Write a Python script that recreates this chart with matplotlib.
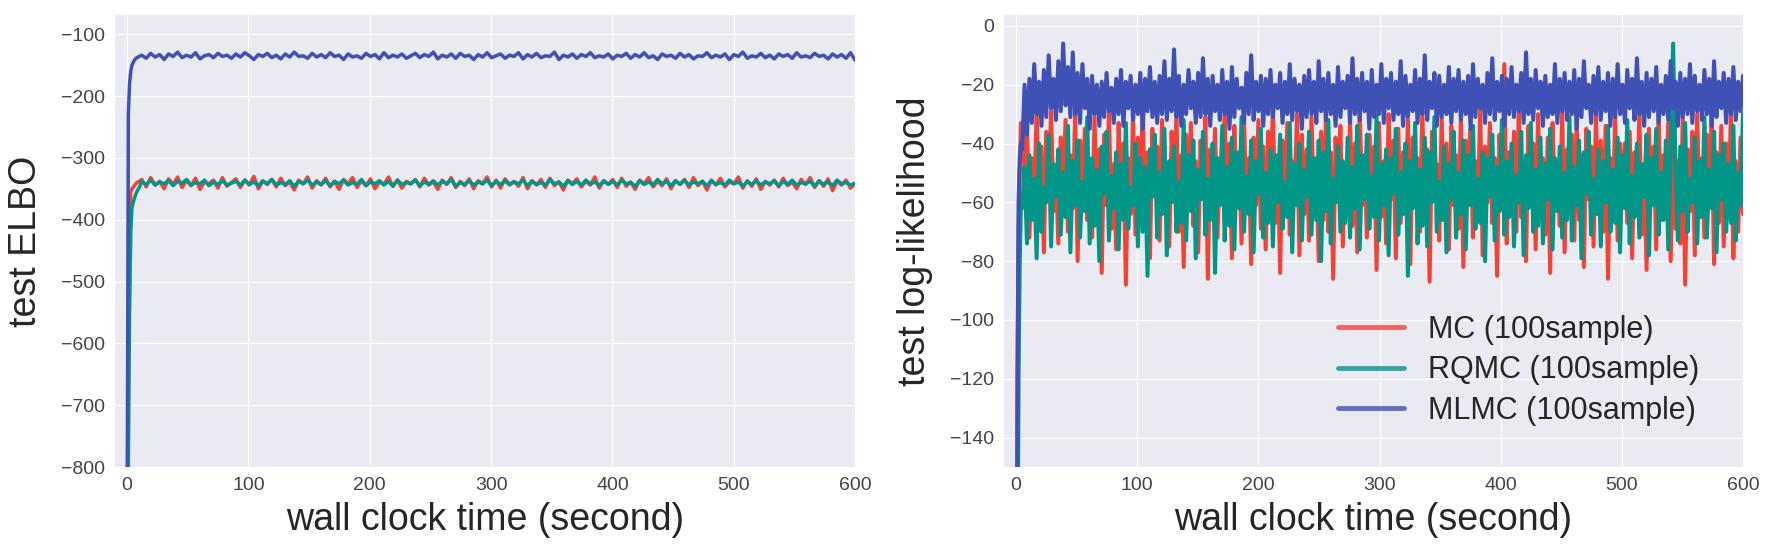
import numpy as np
import matplotlib.pyplot as plt

plt.style.use('seaborn-v0_8-darkgrid')
plt.rcParams['font.family'] = ['Liberation Sans', 'DejaVu Sans']

# ---- left panel: test ELBO ----
elbo_warm_t = [0, 1, 2, 3, 4, 6, 8, 10]
elbo_mlmc_warm = [-900, -230, -180, -160, -150, -142, -138, -136]
elbo_mc_warm = [-900, -600, -400, -355, -350, -345, -340, -338]
elbo_rqmc_warm = [-900, -800, -550, -420, -380, -365, -355, -348]

elbo_mlmc = [
    -134, -139, -131, -137, -133, -141, -132, -136, -129, -138, -134, -137, -130, -140, -135, -133, -138, -131, -136, -134,
    -139, -132, -137, -130, -135, -141, -133, -136, -131, -138, -134, -140, -132, -137, -129, -136, -135, -139, -131, -137,
    -133, -138, -130, -136, -134, -141, -132, -137, -135, -139, -131, -136, -133, -140, -130, -138, -134, -137, -132, -139,
    -135, -131, -138, -133, -136, -129, -140, -134, -137, -132, -139, -131, -136, -134, -141, -133, -137, -130, -138, -135,
    -132, -139, -134, -136, -130, -140, -133, -137, -131, -138, -135, -136, -129, -141, -134, -137, -132, -139, -133, -136,
    -130, -138, -135, -137, -132, -140, -134, -136, -131, -139, -133, -137, -130, -138, -135, -141, -132, -136, -134, -139,
    -131, -137, -133, -140, -135, -136, -130, -138, -134, -137, -132, -141, -133, -136, -129, -139, -135, -137, -131, -138,
    -134, -140, -132, -136, -133, -139, -130, -137, -135, -138, -131, -136, -134, -140, -132, -137, -133, -139, -130, -142]
elbo_mc = [
    -335, -347, -332, -344, -338, -350, -334, -343, -331, -348, -337, -345, -333, -351, -339, -342, -336, -349, -332, -346,
    -340, -334, -348, -336, -344, -330, -350, -338, -343, -335, -347, -333, -345, -339, -352, -336, -342, -331, -349, -337,
    -344, -333, -347, -338, -351, -335, -342, -332, -348, -337, -345, -334, -350, -339, -343, -331, -346, -336, -349, -338,
    -342, -335, -347, -333, -344, -339, -351, -336, -343, -332, -348, -338, -345, -334, -350, -337, -342, -331, -347, -336,
    -349, -334, -343, -338, -346, -332, -350, -337, -344, -335, -348, -333, -345, -339, -352, -336, -342, -334, -347, -338,
    -344, -331, -349, -337, -343, -335, -348, -333, -346, -339, -351, -336, -342, -332, -347, -338, -345, -334, -350, -337,
    -343, -335, -348, -332, -345, -338, -352, -336, -344, -333, -347, -339, -342, -331, -349, -337, -346, -334, -351, -338,
    -344, -336, -347, -333, -345, -339, -350, -335, -343, -332, -348, -337, -346, -334, -353, -338, -344, -336, -349, -342]
elbo_rqmc = [
    -338, -343, -336, -344, -339, -342, -337, -345, -338, -341, -335, -344, -340, -342, -336, -345, -339, -343, -337, -344,
    -341, -338, -344, -336, -343, -339, -345, -337, -342, -335, -344, -340, -343, -337, -346, -338, -342, -336, -344, -339,
    -343, -337, -345, -338, -342, -336, -344, -340, -343, -335, -345, -339, -342, -337, -344, -338, -346, -336, -343, -340,
    -342, -336, -345, -339, -343, -337, -344, -338, -342, -335, -346, -340, -343, -337, -344, -339, -342, -336, -345, -338,
    -343, -337, -344, -339, -342, -336, -345, -338, -343, -340, -344, -335, -342, -339, -346, -337, -343, -338, -344, -336,
    -342, -339, -345, -337, -343, -338, -344, -336, -342, -340, -346, -337, -343, -339, -344, -335, -342, -338, -345, -337,
    -343, -336, -344, -339, -342, -338, -345, -337, -343, -340, -344, -336, -342, -339, -346, -338, -343, -337, -344, -339,
    -342, -337, -345, -338, -343, -336, -344, -340, -342, -338, -346, -337, -343, -339, -345, -336, -342, -340, -344, -341]

# ---- right panel: test log-likelihood ----
ll_warm_t = [0, 1, 2, 3, 4]
ll_mlmc_warm = [-400, -140, -60, -45, -40]
ll_mc_warm = [-400, -120, -70, -50, -33]
ll_rqmc_warm = [-400, -200, -120, -80, -60]

ll_mlmc = [
    -42, -20, -37, -18, -33, -13, -30, -19, -34, -15, -31, -10, -28, -18, -32, -12, -29, -6, -27, -14,
    -31, -9, -30, -16, -33, -13, -28, -18, -35, -17, -30, -20, -34, -19, -31, -16, -29, -21, -33, -18,
    -30, -15, -34, -19, -28, -17, -32, -20, -30, -16, -35, -18, -29, -14, -31, -19, -33, -17, -30, -12,
    -32, -18, -29, -8, -31, -17, -34, -20, -30, -15, -28, -19, -33, -16, -31, -11, -30, -18, -34, -17,
    -29, -20, -32, -15, -30, -19, -35, -14, -31, -18, -28, -21, -33, -16, -30, -10, -32, -19, -29, -17,
    -34, -18, -30, -15, -31, -20, -28, -16, -33, -19, -30, -13, -32, -18, -29, -20, -35, -17, -31, -15,
    -30, -19, -33, -12, -29, -18, -32, -16, -30, -20, -34, -14, -31, -19, -28, -17, -33, -11, -30, -18,
    -32, -16, -29, -19, -35, -15, -31, -20, -30, -13, -33, -18, -28, -16, -32, -19, -30, -12, -34, -17,
    -31, -20, -29, -15, -33, -18, -30, -10, -32, -19, -28, -16, -34, -17, -31, -20, -30, -14, -33, -18,
    -29, -15, -32, -19, -30, -17, -35, -13, -31, -18, -28, -20, -33, -16, -30, -11, -32, -19, -29, -17,
    -34, -18, -30, -14, -31, -20, -29, -16, -33, -9, -30, -18, -32, -15, -28, -19, -34, -17, -31, -20,
    -30, -13, -33, -18, -29, -16, -32, -19, -30, -15, -35, -18, -31, -12, -28, -20, -33, -17, -30, -14,
    -32, -19, -29, -16, -34, -18, -31, -13, -30, -20, -33, -15, -28, -18, -32, -11, -30, -19, -34, -16,
    -31, -18, -29, -14, -33, -20, -30, -17, -32, -12, -28, -19, -34, -16, -31, -18, -30, -13, -33, -17,
    -29, -20, -32, -15, -30, -18, -34, -12, -31, -19, -28, -16, -33, -18, -30, -14, -32, -19, -29, -17]
ll_mc = [
    -34, -50, -33, -72, -45, -60, -27, -68, -41, -77, -36, -55, -29, -63, -48, -74, -38, -58, -32, -70,
    -44, -62, -30, -80, -39, -57, -35, -66, -46, -72, -31, -59, -42, -84, -37, -61, -28, -69, -47, -76,
    -33, -56, -40, -88, -45, -64, -30, -71, -38, -60, -26, -67, -43, -79, -35, -58, -41, -73, -32, -63,
    -48, -75, -36, -59, -29, -70, -44, -82, -37, -62, -33, -68, -46, -77, -39, -57, -31, -86, -42, -65,
    -35, -72, -47, -60, -28, -66, -40, -79, -34, -58, -43, -74, -30, -63, -45, -81, -38, -61, -32, -69,
    -41, -76, -36, -59, -27, -67, -44, -84, -39, -62, -33, -71, -46, -57, -30, -78, -37, -64, -42, -73,
    -31, -60, -45, -80, -36, -66, -29, -70, -43, -86, -38, -58, -34, -75, -47, -63, -32, -68, -40, -77,
    -28, -61, -44, -72, -37, -57, -41, -83, -33, -65, -46, -74, -30, -59, -39, -79, -35, -67, -43, -62,
    -32, -81, -38, -60, -45, -70, -29, -64, -42, -87, -36, -58, -47, -73, -31, -66, -40, -76, -34, -61,
    -44, -69, -30, -82, -39, -57, -35, -72, -46, -63, -28, -78, -41, -60, -33, -67, -45, -85, -37, -62,
    -13, -74, -43, -59, -36, -70, -27, -65, -48, -80, -34, -58, -40, -76, -30, -63, -45, -71, -38, -84,
    -33, -61, -46, -68, -29, -77, -42, -60, -37, -73, -32, -66, -44, -82, -35, -59, -41, -75, -30, -64,
    -39, -70, -34, -86, -45, -61, -31, -73, -40, -57, -40, -67, -36, -79, -43, -62, -30, -71, -47, -83,
    -35, -60, -41, -76, -29, -66, -44, -58, -33, -80, -38, -69, -46, -74, -31, -88, -42, -63, -36, -78,
    -30, -65, -45, -72, -37, -59, -32, -81, -43, -67, -34, -75, -40, -61, -29, -79, -46, -70, -38, -64]
ll_rqmc = [
    -62, -48, -74, -44, -66, -52, -79, -40, -70, -55, -60, -37, -75, -47, -58, -42, -71, -50, -65, -34,
    -77, -46, -61, -39, -72, -53, -63, -31, -74, -45, -68, -49, -80, -41, -57, -36, -73, -51, -62, -43,
    -76, -47, -66, -33, -69, -55, -61, -40, -75, -45, -70, -48, -85, -42, -58, -37, -72, -50, -64, -35,
    -78, -46, -60, -41, -70, -53, -67, -32, -73, -44, -63, -39, -79, -49, -59, -36, -71, -52, -66, -40,
    -84, -45, -61, -34, -73, -48, -68, -38, -76, -43, -62, -31, -70, -51, -64, -39, -77, -46, -57, -35,
    -72, -50, -67, -42, -75, -44, -60, -37, -69, -53, -65, -33, -77, -47, -61, -40, -73, -49, -58, -36,
    -71, -45, -66, -39, -80, -43, -63, -32, -74, -52, -60, -41, -70, -46, -67, -38, -72, -48, -62, -34,
    -76, -44, -59, -37, -69, -51, -65, -30, -73, -47, -61, -42, -78, -45, -57, -35, -71, -50, -64, -40,
    -85, -46, -62, -33, -74, -49, -68, -38, -75, -43, -60, -31, -70, -53, -66, -41, -77, -47, -59, -36,
    -72, -50, -64, -39, -76, -44, -61, -34, -69, -52, -67, -43, -80, -45, -58, -37, -73, -48, -63, -32,
    -71, -46, -65, -40, -75, -51, -60, -36, -78, -44, -62, -33, -70, -49, -68, -38, -74, -47, -59, -35,
    -76, -45, -63, -41, -72, -50, -66, -31, -73, -48, -61, -39, -79, -43, -57, -36, -71, -52, -64, -42,
    -75, -46, -60, -34, -70, -49, -67, -38, -77, -44, -62, -32, -74, -51, -65, -40, -72, -47, -58, -37,
    -78, -45, -61, -35, -71, -50, -66, -39, -76, -43, -6, -48, -73, -41, -63, -33, -70, -52, -60, -38,
    -74, -46, -65, -31, -72, -49, -62, -36, -77, -44, -59, -40, -70, -47, -67, -34, -73, -50, -61, -30]

labels = ['MC (100sample)', 'RQMC (100sample)', 'MLMC (100sample)']
colors = ['#F44336', '#009688', '#3F51B5']


def timeline(warm_t, vals, start):
    return np.concatenate([warm_t, np.linspace(start, 600, len(vals))])


fig = plt.figure(figsize=(17.74, 5.55), dpi=100)
ax1 = fig.add_axes([115 / 1774, 88 / 555, 740 / 1774, 452 / 555])
ax2 = fig.add_axes([1004 / 1774, 88 / 555, 739 / 1774, 452 / 555])

for warm, vals, c, lab in [(elbo_mc_warm, elbo_mc, colors[0], labels[0]),
                           (elbo_rqmc_warm, elbo_rqmc, colors[1], labels[1]),
                           (elbo_mlmc_warm, elbo_mlmc, colors[2], labels[2])]:
    ax1.plot(timeline(elbo_warm_t, vals, 12), warm + vals, color=c, lw=2.5, label=lab)

for warm, vals, c, lab in [(ll_mc_warm, ll_mc, colors[0], labels[0]),
                           (ll_rqmc_warm, ll_rqmc, colors[1], labels[1]),
                           (ll_mlmc_warm, ll_mlmc, colors[2], labels[2])]:
    ax2.plot(timeline(ll_warm_t, vals, 5), warm + vals, color=c, lw=2.9, label=lab)

ax1.set_xlim(-10, 600)
ax1.set_ylim(-800, -69)
ax1.set_yticks([-800, -700, -600, -500, -400, -300, -200, -100])
ax1.set_ylabel('test ELBO', fontsize=27, color='#262626', labelpad=12)
ax1.set_xlabel('wall clock time (second)', fontsize=27, color='#262626', labelpad=6)

ax2.set_xlim(-10, 600)
ax2.set_ylim(-150, 3.7)
ax2.set_yticks([-140, -120, -100, -80, -60, -40, -20, 0])
ax2.set_ylabel('test log-likelihood', fontsize=27, color='#262626', labelpad=12)
ax2.set_xlabel('wall clock time (second)', fontsize=27, color='#262626', labelpad=6)

for ax in (ax1, ax2):
    ax.set_xticks([0, 100, 200, 300, 400, 500, 600])
    ax.tick_params(labelsize=14, labelcolor='#444444', pad=7)

leg = ax2.legend(loc='lower right', fontsize=22, frameon=False, handlelength=2.15,
                 bbox_to_anchor=(0.978, 0.03), labelspacing=0.35)
for line in leg.get_lines():
    line.set_linewidth(3.5)
    line.set_alpha(0.8)

fig.savefig('out.png', dpi=100)
